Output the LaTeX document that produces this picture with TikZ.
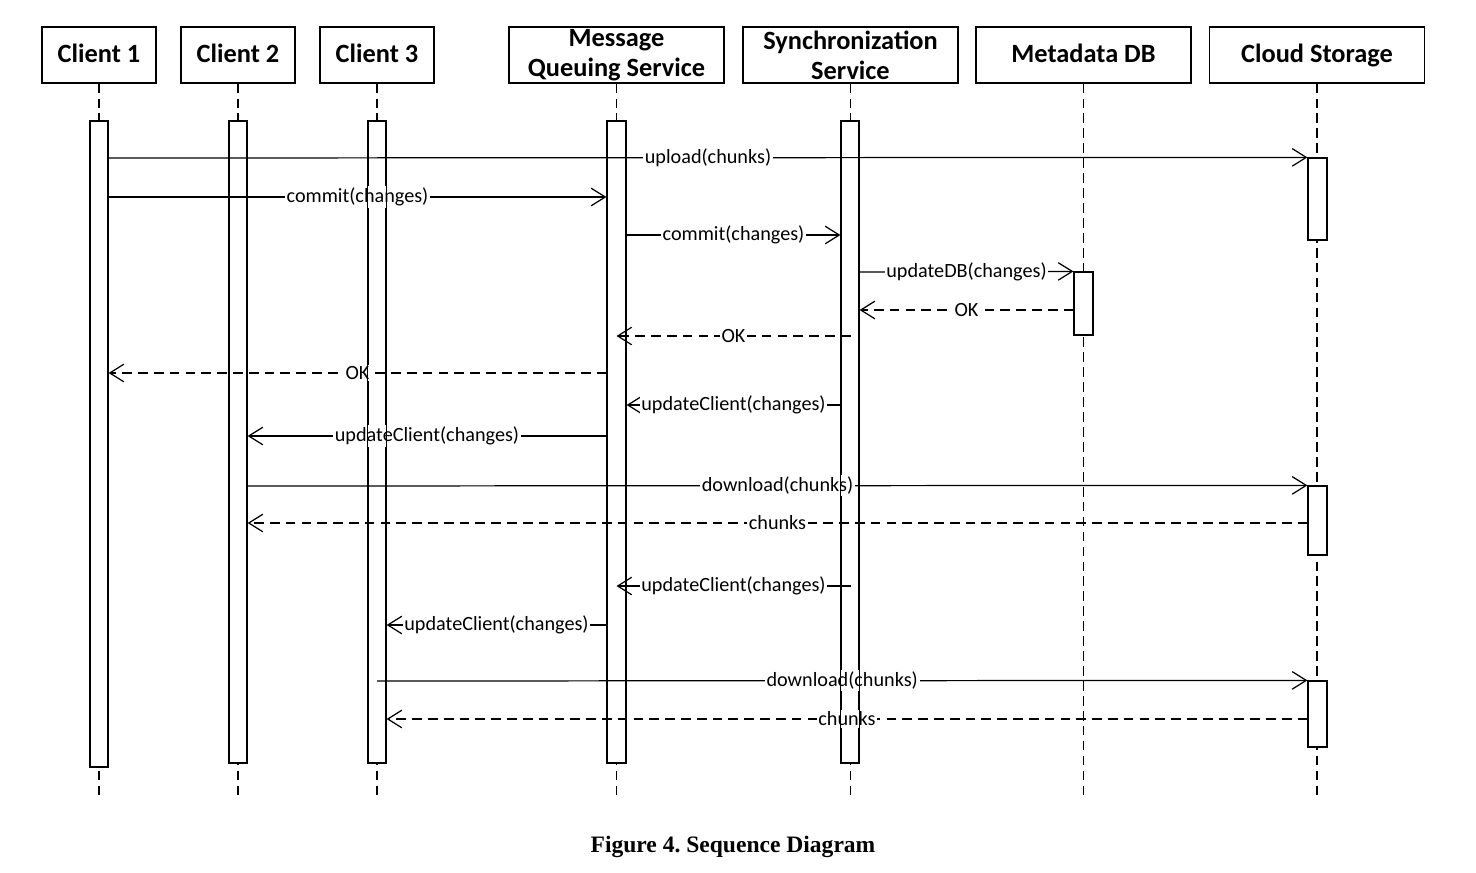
\documentclass[tikz,border=0pt]{standalone}
\usepackage{fontspec}
\setmainfont{Carlito}
\newfontfamily\capfont{Liberation Serif}
\usetikzlibrary{arrows.meta,fit}

\begin{document}
\begin{tikzpicture}[x=0.02cm,y=-0.02cm,
    head/.style={draw,line width=0.7pt,minimum height=1.12cm,inner sep=0pt,align=center,
                 font=\fontsize{15}{17}\selectfont\bfseries},
    head1/.style={head,text height=13pt,text depth=4pt},
    life/.style={line width=0.7pt,dash pattern=on 5.5pt off 3pt},
    act/.style={draw,fill=white,line width=0.7pt,inner sep=0pt},
    msg/.style={line width=0.7pt,-{Straight Barb[length=8pt,width=10pt]}},
    reply/.style={msg,dash pattern=on 5.5pt off 3.5pt},
    lbl/.style={midway,fill=white,inner sep=1pt,font=\fontsize{11.5}{13}\selectfont}]

    \useasboundingbox (0,0) rectangle (1476,872);

    % Headers
    \node[head1,minimum width=2.28cm] (c1) at (99,55) {Client 1};
    \node[head1,minimum width=2.28cm] (c2) at (238,55) {Client 2};
    \node[head1,minimum width=2.28cm] (c3) at (377,55) {Client 3};
    \node[head,minimum width=4.3cm] (mq) at (616.5,55) {Message\\Queuing Service};
    \node[head,minimum width=4.3cm] (sy) at (850.5,55) {Synchronization\\Service};
    \node[head1,minimum width=4.3cm] (db) at (1083.5,55) {Metadata DB};
    \node[head1,minimum width=4.3cm] (cs) at (1317,55) {Cloud Storage};

    % Lifelines
    \foreach \n in {c1,c2,c3,mq,sy,db,cs}
        \draw[life] (\n.south) -- (\n.south |- 0,797);

    % Activation bars
    \node[act,fit={(90,121) (108,767)}] (c1act) {};
    \node[act,fit={(229,121) (247,763)}] (c2act) {};
    \node[act,fit={(368,121) (386,763)}] (c3act) {};
    \node[act,fit={(607,121) (626,763)}] (mqact) {};
    \node[act,fit={(841,121) (859,763)}] (syact) {};
    \node[act,fit={(1074,272) (1093,335)}] (dbact) {};
    \node[act,fit={(1308,158) (1327,240)}] (csact1) {};
    \node[act,fit={(1308,486) (1327,555)}] (csact2) {};
    \node[act,fit={(1308,681) (1327,747)}] (csact3) {};

    % Messages
    \draw[msg] (c1act.east |- 0,158) -- (csact1.north west) node[lbl] {upload(chunks)};
    \draw[msg] (c1act.east |- 0,197) -- (mqact.west |- 0,197) node[lbl] {commit(changes)};
    \draw[msg] (mqact.east |- 0,235) -- (syact.west |- 0,235) node[lbl] {commit(changes)};
    \draw[msg] (syact.east |- 0,272) -- (dbact.north west) node[lbl] {updateDB(changes)};
    \draw[reply] (dbact.west |- 0,310) -- (syact.east |- 0,310) node[lbl] {OK};
    \draw[reply] (sy.south |- 0,336) -- (mq.south |- 0,336) node[lbl] {OK};
    \draw[reply] (mqact.west |- 0,373) -- (c1act.east |- 0,373) node[lbl] {OK};
    \draw[msg] (syact.west |- 0,405) -- (mqact.east |- 0,405) node[lbl] {updateClient(changes)};
    \draw[msg] (mqact.west |- 0,436) -- (c2act.east |- 0,436) node[lbl] {updateClient(changes)};
    \draw[msg] (c2act.east |- 0,486) -- (csact2.north west) node[lbl] {download(chunks)};
    \draw[reply] (csact2.west |- 0,523) -- (c2act.east |- 0,523) node[lbl] {chunks};
    \draw[msg] (sy.south |- 0,586) -- (mq.south |- 0,586) node[lbl] {updateClient(changes)};
    \draw[msg] (mqact.west |- 0,625) -- (c3act.east |- 0,625) node[lbl] {updateClient(changes)};
    \draw[msg] (c3.south |- 0,681) -- (csact3.north west) node[lbl] {download(chunks)};
    \draw[reply] (csact3.west |- 0,719) -- (c3act.east |- 0,719) node[lbl] {chunks};

    % bar outlines over the labels
    \foreach \b in {c1act,c2act,c3act,mqact,syact}
        \draw[line width=0.7pt] (\b.north west) rectangle (\b.south east);

    % Caption
    \node[font=\capfont\fontsize{13.4}{15}\selectfont\bfseries] (cap) at (733,847) {Figure 4.\ Sequence Diagram};
\end{tikzpicture}
\end{document}
